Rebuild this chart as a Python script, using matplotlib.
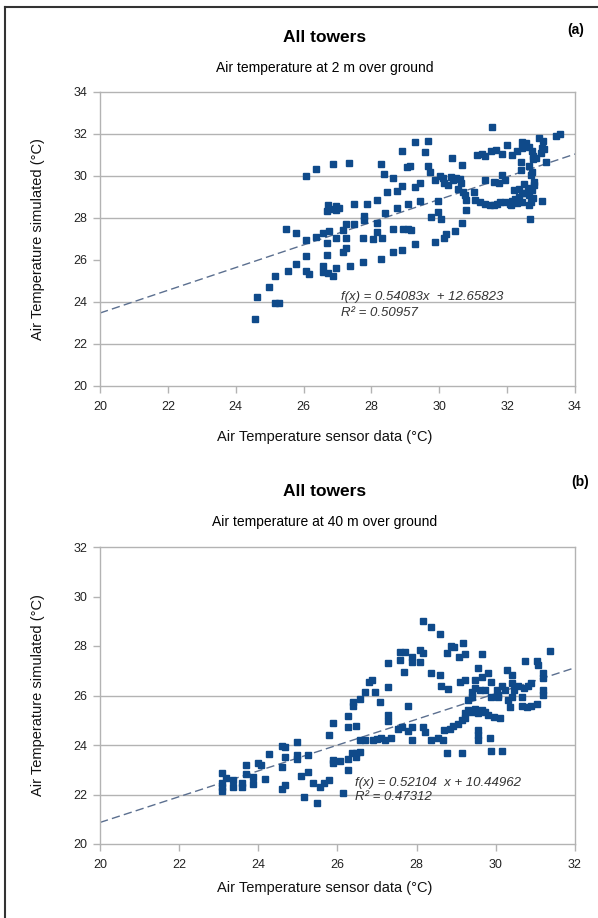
import numpy as np
import matplotlib
matplotlib.use("Agg")
import matplotlib.pyplot as plt
from matplotlib.lines import Line2D

plt.rcParams['font.family'] = ['Liberation Sans', 'DejaVu Sans']

# Panel (a): 2 m over ground  (sensor, simulated)
sensor_a = [24.57, 24.64, 24.99, 25.15, 25.28, 25.17, 25.55, 25.78, 25.48, 25.78,
            26.07, 26.07, 26.07, 26.17, 26.07, 26.36, 26.86, 27.35, 26.37, 26.56,
            26.76, 26.7, 26.7, 26.56, 26.56, 26.73, 26.86, 26.97, 26.7, 26.72,
            26.95, 26.97, 26.8, 27.05, 27.49, 27.86, 28.15, 27.78, 27.78, 27.25,
            27.49, 27.17, 26.97, 27.25, 27.25, 27.15, 27.37, 27.76, 27.76, 28.05,
            28.15, 28.15, 28.3, 28.27, 28.4, 28.45, 28.38, 28.27, 28.64, 28.76,
            28.89, 28.89, 29.04, 28.64, 28.94, 28.76, 28.64, 28.89, 31.56, 29.28,
            29.68, 29.58, 29.14, 29.68, 29.73, 30.36, 30.66, 29.43, 29.28, 29.87,
            30.02, 30.12, 30.15, 30.34, 30.4, 30.5, 30.6, 30.63, 30.26, 30.56,
            30.7, 30.76, 31.03, 30.78, 31.05, 31.2, 31.35, 31.5, 31.6, 31.7,
            31.8, 31.94, 32.08, 32.13, 32.23, 32.35, 32.53, 32.65, 32.72, 32.77,
            32.7, 33.02, 30.8, 29.97, 29.43, 29.09, 29.77, 29.97, 30.05, 30.66,
            30.46, 30.21, 30.14, 29.87, 29.28, 29.09, 29.18, 32.67, 31.1, 31.25,
            31.35, 31.52, 31.68, 31.84, 32.0, 32.13, 32.28, 32.43, 32.45, 32.55,
            32.65, 32.72, 32.75, 32.85, 32.95, 33.02, 33.05, 33.1, 33.16, 33.45,
            33.55, 32.4, 32.4, 32.65, 32.72, 32.7, 32.75, 33.0, 31.84, 31.94,
            31.35, 31.75, 31.6, 32.2, 32.35, 32.45, 32.6, 32.1, 32.3, 32.45,
            32.65, 32.78, 32.8, 32.5]
simul_a = [23.19, 24.22, 24.73, 23.97, 23.97, 25.25, 25.49, 25.81, 27.46, 27.27,
           26.95, 26.18, 25.5, 25.33, 30.01, 30.33, 30.57, 30.62, 27.08, 27.27,
           27.38, 26.8, 26.24, 25.73, 25.44, 25.37, 25.25, 25.63, 28.35, 28.6,
           28.4, 28.55, 28.45, 28.48, 28.65, 28.65, 28.86, 28.1, 27.9, 27.7,
           27.7, 27.43, 27.03, 27.06, 26.56, 26.37, 25.73, 25.89, 27.06, 26.98,
           27.32, 27.75, 27.03, 26.05, 28.25, 29.22, 30.08, 30.57, 29.92, 29.29,
           29.54, 31.19, 30.44, 27.46, 27.46, 28.49, 26.37, 26.48, 32.35, 31.63,
           31.67, 31.13, 30.49, 30.49, 30.2, 30.84, 30.52, 29.65, 29.49, 29.81,
           30.01, 29.92, 29.65, 29.95, 29.8, 29.9, 29.85, 29.65, 29.57, 29.38,
           29.25, 29.1, 29.25, 28.86, 28.86, 28.75, 28.65, 28.62, 28.6, 28.65,
           28.75, 28.78, 28.65, 28.8, 28.9, 29.0, 29.17, 29.1, 29.33, 28.95,
           28.75, 28.8, 28.38, 28.81, 28.81, 28.65, 28.06, 28.3, 27.95, 27.75,
           27.38, 27.22, 27.03, 26.84, 26.75, 27.5, 27.43, 27.95, 31.0, 31.05,
           30.95, 31.2, 31.25, 31.05, 31.5, 31.0, 31.2, 31.32, 31.63, 31.55,
           31.4, 31.2, 30.95, 30.85, 31.8, 31.35, 31.65, 31.3, 30.68, 31.9,
           32.0, 30.68, 30.3, 30.5, 30.2, 30.05, 30.8, 31.1, 30.05, 29.81,
           29.81, 29.65, 29.7, 29.35, 29.4, 29.2, 29.45, 28.62, 28.7, 28.75,
           28.6, 29.7, 29.55, 29.6]
slope_a, icpt_a, r2_a = 0.54083, 12.65823, 0.50957

# Panel (b): 40 m over ground
sensor_b = [23.07, 23.07, 23.07, 23.07, 23.18, 23.37, 23.37, 23.58, 23.58, 23.69,
            23.69, 23.86, 23.86, 24.0, 24.08, 24.17, 24.28, 24.59, 24.67, 24.59,
            24.67, 24.59, 24.67, 24.97, 24.97, 24.97, 25.26, 25.26, 25.07, 25.15,
            25.37, 25.47, 25.56, 25.66, 25.79, 26.15, 25.79, 25.88, 25.88, 25.88,
            26.06, 26.27, 26.27, 26.47, 26.27, 26.27, 26.38, 26.38, 26.57, 26.7,
            26.8, 26.57, 26.7, 26.36, 26.47, 26.57, 26.47, 28.17, 28.36, 28.59,
            27.58, 27.71, 27.58, 27.87, 27.87, 28.08, 28.08, 28.17, 27.27, 27.69,
            28.36, 28.59, 28.76, 28.87, 28.95, 29.16, 29.07, 29.22, 29.64, 28.62,
            28.78, 27.27, 26.86, 26.95, 27.07, 27.77, 27.27, 27.27, 27.53, 27.62,
            27.79, 27.87, 28.17, 28.21, 27.87, 27.0, 27.1, 27.2, 27.35, 26.9,
            28.36, 28.53, 28.67, 28.7, 28.84, 28.92, 29.05, 29.14, 29.22, 29.22,
            29.3, 29.39, 29.47, 29.56, 29.64, 29.73, 29.8, 29.95, 30.11, 28.76,
            29.14, 29.88, 30.16, 29.56, 29.56, 29.85, 29.56, 29.1, 29.22, 29.47,
            29.64, 29.56, 29.79, 29.89, 30.02, 30.06, 30.15, 30.23, 30.28, 30.4,
            30.57, 30.7, 30.82, 30.9, 30.74, 31.03, 31.07, 31.2, 31.2, 31.2,
            31.2, 31.37, 30.65, 30.78, 30.9, 31.03, 30.36, 30.4, 30.65, 30.32,
            29.39, 29.47, 29.6, 29.73, 29.3, 29.39, 29.89, 30.06, 30.4, 30.45]
simul_b = [22.88, 22.47, 22.31, 22.15, 22.65, 22.59, 22.31, 22.45, 22.31, 23.19,
           22.83, 22.72, 22.42, 23.26, 23.19, 22.63, 23.62, 23.96, 23.93, 23.1,
           23.53, 22.22, 22.38, 24.13, 23.6, 23.42, 23.6, 22.92, 22.75, 21.91,
           22.45, 21.64, 22.31, 22.48, 22.59, 22.07, 24.4, 24.9, 23.39, 23.28,
           23.36, 25.17, 24.74, 24.77, 23.42, 22.99, 25.75, 25.58, 25.86, 26.16,
           26.56, 24.2, 24.2, 23.69, 23.69, 23.73, 23.53, 29.02, 28.75, 28.48,
           27.74, 27.74, 27.43, 27.57, 27.37, 27.84, 27.34, 27.72, 27.3, 26.96,
           26.92, 26.83, 27.73, 28.0, 27.97, 28.13, 27.57, 27.68, 27.68, 26.38,
           26.28, 26.36, 26.63, 26.16, 25.75, 25.58, 25.21, 24.98, 24.63, 24.74,
           24.57, 24.74, 24.74, 24.54, 24.22, 24.25, 24.3, 24.2, 24.28, 24.22,
           24.2, 24.3, 24.2, 24.61, 24.65, 24.75, 24.85, 25.01, 25.1, 25.3,
           25.41, 25.35, 25.45, 25.3, 25.41, 25.35, 25.2, 25.15, 25.1, 23.66,
           23.66, 23.77, 23.77, 24.61, 24.2, 24.3, 24.4, 26.56, 26.63, 26.63,
           26.76, 27.1, 26.92, 26.56, 26.22, 26.02, 26.38, 26.22, 27.03, 26.83,
           26.38, 26.29, 26.38, 26.49, 27.41, 27.41, 27.23, 26.92, 26.69, 26.24,
           26.02, 27.81, 25.58, 25.52, 25.58, 25.66, 25.55, 25.95, 25.95, 25.82,
           26.16, 26.29, 26.22, 26.22, 25.82, 25.95, 25.95, 25.95, 26.49, 26.22]
slope_b, icpt_b, r2_b = 0.52104, 10.44962, 0.47312

W, H = 598, 918
fig = plt.figure(figsize=(W / 100, H / 100), dpi=100)

def fx(px):
    return px / W

def fy(py):
    return 1 - py / H

grid_col = '#b3b3b3'
dot_col = '#0f4a8a'
trend_col = '#5b6f8f'

def panel(rect, xs, ys, xlim, ylim, grid_vals, slope, icpt, r2, eq_fmt, eq_xy, r2_y):
    ax = fig.add_axes(rect)
    ax.set_xlim(*xlim)
    ax.set_ylim(*ylim)
    for g in grid_vals:
        ax.axhline(g, color=grid_col, lw=1, zorder=0)
    xl = np.array(xlim, dtype=float)
    ax.plot(xl, slope * xl + icpt, ls=(0, (6, 3)), color=trend_col, lw=1, zorder=2)
    ax.plot(xs, ys, 's', ms=3.9, color=dot_col, mec=dot_col, zorder=3)
    ax.set_xticks(np.arange(xlim[0], xlim[1] + 1, 2))
    ax.set_yticks(np.arange(ylim[0], ylim[1] + 1, 2))
    for s in ax.spines.values():
        s.set_color(grid_col)
        s.set_linewidth(1)
    ax.tick_params(axis='both', colors=grid_col, labelcolor='#222222', labelsize=9, length=5, width=1)
    ax.tick_params(axis='x', pad=6)
    ax.tick_params(axis='y', pad=4)
    ax.set_xlabel('Air Temperature sensor data (°C)', fontsize=10.5, color='#111111')
    ax.set_ylabel('Air Temperature simulated (°C)', fontsize=10.5, color='#111111')
    ax.text(eq_xy[0], eq_xy[1], eq_fmt.format(slope, icpt), fontsize=9.5,
            style='italic', color='#333333', va='center')
    ax.text(eq_xy[0], r2_y, 'R² = {:.5f}'.format(r2),
            fontsize=9.5, style='italic', color='#333333', va='center')
    return ax

ax1 = panel([fx(100), fy(386), 475 / W, 294 / H], sensor_a, simul_a, (20, 34), (20, 34),
            [22, 24, 28, 30, 32], slope_a, icpt_a, r2_a,
            'f(x) = {:.5f}x  + {:.5f}', (27.1, 24.25), 23.5)
ax1.xaxis.set_label_coords(0.474, -0.173)
ax1.xaxis.label.set_va('center')
ax1.yaxis.set_label_coords(-0.131, 0.5)
ax1.yaxis.label.set_va('center')

ax2 = panel([fx(100), fy(844), 475 / W, 297 / H], sensor_b, simul_b, (20, 32), (20, 32),
            [22, 24, 26], slope_b, icpt_b, r2_b,
            'f(x) = {:.5f}  x + {:.5f}', (26.45, 22.45), 21.9)
ax2.xaxis.set_label_coords(0.474, -0.148)
ax2.xaxis.label.set_va('center')
ax2.yaxis.set_label_coords(-0.131, 0.5)
ax2.yaxis.label.set_va('center')

# titles
fig.text(fx(325), fy(37), 'All towers', ha='center', va='center', fontsize=12.5, fontweight='bold')
fig.text(fx(325), fy(68), 'Air temperature at 2 m over ground', ha='center', va='center', fontsize=10)
fig.text(fx(576), fy(30), '(a)', ha='center', va='center', fontsize=10, fontweight='bold')
fig.text(fx(325), fy(492), 'All towers', ha='center', va='center', fontsize=12.5, fontweight='bold')
fig.text(fx(325), fy(522), 'Air temperature at 40 m over ground', ha='center', va='center', fontsize=10)
fig.text(fx(580), fy(482), '(b)', ha='center', va='center', fontsize=10, fontweight='bold')

# outer frame
fig.add_artist(Line2D([fx(5), fx(5)], [fy(7), 0], color='#333333', lw=1.5))
fig.add_artist(Line2D([fx(5), 1], [fy(7), fy(7)], color='#333333', lw=1.5))

fig.savefig('out.png', dpi=100)
